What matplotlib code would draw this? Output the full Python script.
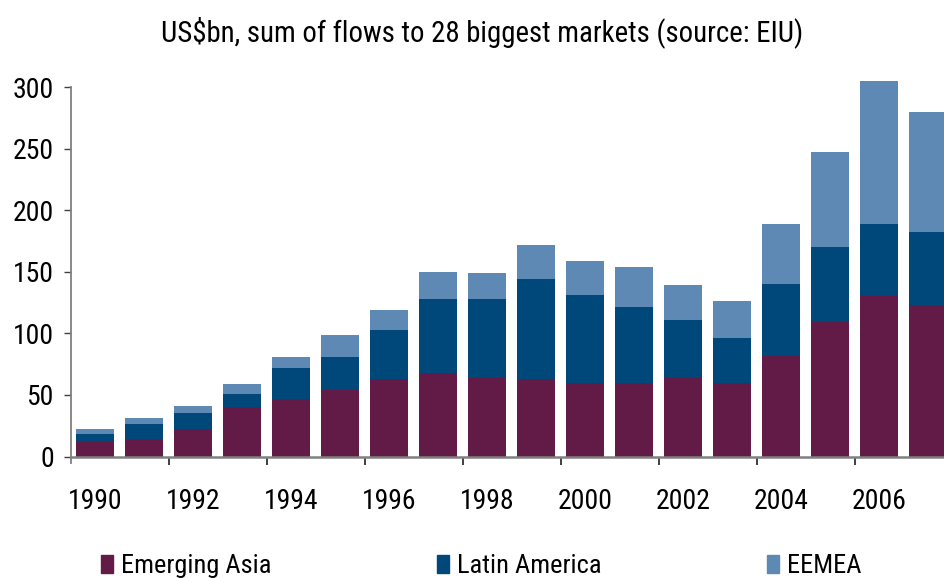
import numpy as np
import matplotlib
matplotlib.use('Agg')
import matplotlib.pyplot as plt
from matplotlib.patches import Patch

plt.rcParams['font.family'] = ['Roboto Condensed', 'DejaVu Sans']

years = list(range(1990, 2008))
asia = [12, 14, 22, 40, 47, 54, 63, 68, 64, 63, 60, 60, 64, 60, 82, 109, 130, 123]
latin = [6.5, 12.6, 13.5, 11, 25, 27, 40, 60, 64, 81, 71, 61, 47, 36.5, 58, 61.5, 58.5, 59]
eemea = [3.5, 4.9, 5.5, 8, 9, 18, 16, 22, 21, 27.5, 28, 33, 28, 30, 49, 76.5, 116.5, 98]
labels = ['Emerging Asia', 'Latin America', 'EEMEA']
colors = ['#621B47', '#00487A', '#5E89B4']

W, H = 944, 578
fig = plt.figure(figsize=(W / 100, H / 100), dpi=100)
# axes runs past the right edge, like the cropped original
ax = fig.add_axes([70.5 / W, (H - 456.5) / H, 882 / W, 369.5 / H])

x = np.arange(len(years))
asia = np.array(asia)
latin = np.array(latin)
eemea = np.array(eemea)
ax.bar(x, asia, width=0.78, color=colors[0], label=labels[0], clip_on=False)
ax.bar(x, latin, width=0.78, bottom=asia, color=colors[1], label=labels[1], clip_on=False)
ax.bar(x, eemea, width=0.78, bottom=asia + latin, color=colors[2], label=labels[2], clip_on=False)

ax.set_xlim(-0.5, len(years) - 0.5)
ax.set_ylim(0, 300)

for s in ['top', 'right']:
    ax.spines[s].set_visible(False)
ax.spines['left'].set_color('#808080')
ax.spines['left'].set_linewidth(1.3)
ax.spines['left'].set_bounds(-5.5, 300)
ax.spines['bottom'].set_color('#808080')
ax.spines['bottom'].set_linewidth(1.8)

ax.set_yticks(range(0, 301, 50))
ax.tick_params(axis='y', length=5, width=1, color='#404040', pad=7, labelsize=20)

# ticks at category boundaries, labels on every second bar
ax.set_xticks(np.arange(1.5, len(years), 2))
ax.set_xticklabels([])
ax.tick_params(axis='x', which='major', length=6, width=1.2, color='#202020')
ax.set_xticks(x[::2], minor=True)
ax.set_xticklabels([str(y) for y in years[::2]], minor=True)
ax.tick_params(axis='x', which='minor', length=0, pad=23, labelsize=20)

fig.text(482.5 / W, 1 - 32 / H, 'US$bn, sum of flows to 28 biggest markets (source: EIU)',
         ha='center', va='center', fontsize=20.8)

handles = [Patch(color=c) for c in colors]
fig.legend(handles, labels, loc='center left', bbox_to_anchor=(101 / W, 1 - 566 / H),
           ncol=3, frameon=False, fontsize=19, borderpad=0, borderaxespad=0,
           handlelength=0.47, handleheight=0.65, handletextpad=0.3, columnspacing=6.25)

fig.savefig('out.png', dpi=100)
